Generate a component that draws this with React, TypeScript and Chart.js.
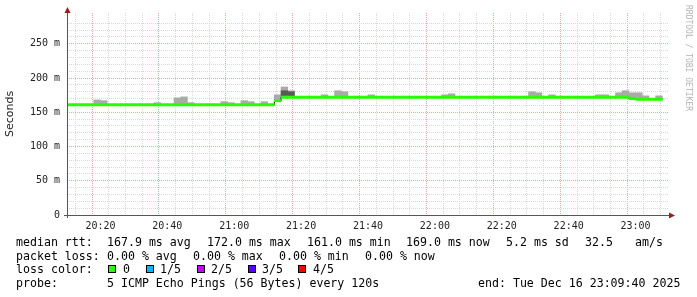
import React, { useEffect, useRef } from 'react';
import { Chart, registerables } from 'chart.js';

Chart.register(...registerables);

// ---------- data ----------
const START_LABEL = '20:10';
const END_LABEL = '23:10';
const BIN_MINUTES = 2;
const X_TICK_LABELS = ['20:20', '20:40', '21:00', '21:20', '21:40', '22:00', '22:20', '22:40', '23:00'];
const Y_TICK_LABELS = ['0', '50 m', '100 m', '150 m', '200 m', '250 m'];
const Y_MAX = 295;

// median rtt (ms) per 2-minute bin, starting 20:10
const MEDIAN = [
  161, 161, 161, 161, 161, 161, 161, 161, 161, 161,
  161, 161, 161, 161, 161, 161, 161, 161, 161, 161,
  161, 161, 161, 161, 161, 161, 161, 161, 161, 161,
  161, 167, 172, 172, 172, 172, 172, 172, 172, 172,
  172, 172, 172, 172, 172, 172, 172, 172, 172, 172,
  172, 172, 172, 172, 172, 172, 172, 172, 172, 172,
  172, 172, 172, 172, 172, 172, 172, 172, 172, 172,
  172, 172, 172, 172, 172, 172, 172, 172, 172, 172,
  172, 172, 172, 172, 170, 169, 169, 169, 169,
];

// highest ping per bin (outer smoke), null where hidden by the median line
const SMOKE_HIGH = [
  null, null, null, null, 168, 167, null, null, null, null,
  null, null, null, 164, null, null, 171, 172.5, 164, null,
  null, null, null, 165.5, 164, null, 167, 165.5, null, 165.5,
  null, 175.5, 187, 181.5, null, null, null, null, 175.5, null,
  181.5, 180, null, null, null, 175.5, null, null, null, null,
  null, null, null, null, null, null, 175.5, 177, null, null,
  null, null, null, null, null, null, null, null, null, 180,
  178.5, null, 175.5, null, null, null, null, null, null, 175.5,
  175.5, null, 178.5, 181.5, 178.5, 178.5, 174, null, 174,
];

// inner (denser) smoke per bin
const SMOKE_INNER_HIGH = [
  null, null, null, null, null, null, null, null, null, null,
  null, null, null, null, null, null, null, null, null, null,
  null, null, null, null, null, null, null, null, null, null,
  null, null, 181.5, 180, null, null, null, null, null, null,
  null, null, null, null, null, null, null, null, null, null,
  null, null, null, null, null, null, null, null, null, null,
  null, null, null, null, null, null, null, null, null, null,
  null, null, null, null, null, null, null, null, null, null,
  null, null, null, null, null, null, null, null, null,
];

const RTT_STATS = ['167.9 ms avg', '172.0 ms max', '161.0 ms min', '169.0 ms now', '5.2 ms sd', '32.5', 'am/s'];
const LOSS_STATS = ['0.00 % avg', '0.00 % max', '0.00 % min', '0.00 % now'];
const LOSS_LABELS = ['0', '1/5', '2/5', '3/5', '4/5'];
const LOSS_COLORS = ['#26ff00', '#00b8ff', '#cc00ff', '#5500ff', '#ff0000'];
const PROBE_TEXT = '5 ICMP Echo Pings (56 Bytes) every 120s';
const END_TEXT = 'end: Tue Dec 16 23:09:40 2025';
const WATERMARK = 'RRDTOOL / TOBI OETIKER';

// ---------- styles ----------
const W = 697;
const H = 297;
const MONO = "'DejaVu Sans Mono', monospace";
const MINOR_GRID = '#d8d8d8';
const MAJOR_GRID = '#eba6a6';
const AXIS_COLOR = '#555555';
const ARROW_COLOR = '#9b1c1c';
const LINE_HALF = 1.7;

const toMin = (s: string) => {
  const [h, m] = s.split(':').map(Number);
  return h * 60 + m;
};

const axesPlugin = {
  id: 'rrdAxes',
  afterDraw(chart: any) {
    const { ctx, chartArea } = chart;
    const { left, right, bottom, top } = chartArea;
    ctx.save();
    ctx.strokeStyle = AXIS_COLOR;
    ctx.lineWidth = 1;
    ctx.setLineDash([]);
    ctx.beginPath();
    ctx.moveTo(Math.round(left) + 0.5, bottom + 3);
    ctx.lineTo(Math.round(left) + 0.5, top - 2);
    ctx.moveTo(left - 3, Math.round(bottom) + 0.5);
    ctx.lineTo(right + 2, Math.round(bottom) + 0.5);
    ctx.stroke();
    ctx.fillStyle = ARROW_COLOR;
    const lx = Math.round(left) + 0.5;
    ctx.beginPath();
    ctx.moveTo(lx, top - 6);
    ctx.lineTo(lx - 3, top);
    ctx.lineTo(lx + 3, top);
    ctx.closePath();
    ctx.fill();
    const by = Math.round(bottom) + 0.5;
    ctx.beginPath();
    ctx.moveTo(right + 6, by);
    ctx.lineTo(right, by - 3);
    ctx.lineTo(right, by + 3);
    ctx.closePath();
    ctx.fill();
    ctx.restore();
  },
};

export default function App() {
  const ref = useRef<HTMLCanvasElement>(null);

  useEffect(() => {
    const canvas = ref.current;
    if (!canvas) return;
    const x0 = toMin(START_LABEL);
    const xMax = toMin(END_LABEL) - x0;
    const majorX = X_TICK_LABELS.map((l) => toMin(l) - x0);

    const center = (i: number) => i * BIN_MINUTES + BIN_MINUTES / 2;
    const outer: any[] = [];
    SMOKE_HIGH.forEach((v, i) => {
      if (v != null) outer.push({ x: center(i), y: [MEDIAN[i], v] });
    });
    const inner: any[] = [];
    SMOKE_INNER_HIGH.forEach((v, i) => {
      if (v != null) inner.push({ x: center(i), y: [MEDIAN[i], v] });
    });
    const band = MEDIAN.map((m, i) => ({ x: center(i), y: [m - LINE_HALF, m + LINE_HALF] }));
    const stepLine = MEDIAN.map((m, i) => ({ x: i * BIN_MINUTES, y: m }));
    stepLine.push({ x: MEDIAN.length * BIN_MINUTES, y: MEDIAN[MEDIAN.length - 1] });

    const barCommon = {
      type: 'bar' as const,
      grouped: false,
      barPercentage: 1,
      categoryPercentage: 1,
      borderWidth: 0,
    };

    const xGridColor = (c: any) => {
      const v = c && c.tick ? c.tick.value : NaN;
      return majorX.includes(v) ? MAJOR_GRID : MINOR_GRID;
    };
    const yGridColor = (c: any) => {
      const v = c && c.tick ? c.tick.value : NaN;
      if (!(v % 10 === 0)) return 'rgba(0,0,0,0)';
      return v % 50 === 0 ? MAJOR_GRID : MINOR_GRID;
    };

    const chart = new Chart(canvas, {
      type: 'bar',
      data: {
        datasets: [
          { ...barCommon, data: outer, backgroundColor: '#aaaaaa', order: 3 } as any,
          { ...barCommon, data: inner, backgroundColor: '#595959', order: 2 } as any,
          {
            type: 'line',
            data: stepLine,
            borderColor: '#000000',
            borderWidth: 1,
            pointRadius: 0,
            stepped: 'before',
            order: 1,
          } as any,
          { ...barCommon, data: band, backgroundColor: '#26ff00', order: 0 } as any,
        ],
      },
      options: {
        responsive: false,
        animation: false,
        devicePixelRatio: 1,
        layout: { padding: { left: 0, top: 13, right: W - 669, bottom: 0 } },
        plugins: { legend: { display: false }, tooltip: { enabled: false } },
        scales: {
          x: {
            type: 'linear',
            min: 0,
            max: xMax,
            offset: false,
            border: { display: false, dash: [1, 1] },
            grid: {
              drawTicks: false,
              color: xGridColor,
            },
            ticks: {
              stepSize: 5,
              autoSkip: false,
              maxRotation: 0,
              padding: 5,
              color: '#222',
              font: { family: MONO, size: 10 },
              callback: (v: any) => {
                const idx = majorX.indexOf(Number(v));
                return idx >= 0 ? X_TICK_LABELS[idx] : '';
              },
            },
            afterFit: (s: any) => {
              s.height = H - 215;
            },
          },
          y: {
            type: 'linear',
            min: 0,
            max: Y_MAX,
            border: { display: false, dash: [1, 1] },
            grid: {
              drawTicks: false,
              color: yGridColor,
            },
            ticks: {
              stepSize: 10,
              autoSkip: false,
              padding: 7,
              color: '#222',
              font: { family: MONO, size: 10 },
              callback: (v: any) => {
                const n = Number(v);
                return n % 50 === 0 ? Y_TICK_LABELS[n / 50] ?? '' : '';
              },
            },
            title: {
              display: true,
              text: 'Seconds',
              color: '#222',
              font: { family: "'DejaVu Sans', sans-serif", size: 11 },
              padding: { top: 4, bottom: 0 },
            },
            afterFit: (s: any) => {
              s.width = 67;
            },
          },
        },
      },
      plugins: [axesPlugin],
    } as any);
    return () => chart.destroy();
  }, []);

  const txt: React.CSSProperties = {
    position: 'absolute',
    fontFamily: MONO,
    fontSize: '11.6px',
    lineHeight: '14px',
    whiteSpace: 'pre',
    color: '#000',
  };
  const rowTop = [235, 248.7, 262.4, 276];
  const rttX = [107, 207, 307, 406, 506, 585, 635];
  const lossX = [107, 193, 279, 365];
  const sqX = [108, 146, 197, 248, 298];
  const lblX = [123, 160, 211, 262, 313];

  return (
    <div style={{ position: 'fixed', left: 0, top: 0, width: W, height: H, background: '#fff', overflow: 'hidden' }}>
      <canvas ref={ref} width={W} height={H} style={{ position: 'absolute', left: 0, top: 0, width: W, height: H }} />
      <div style={{ ...txt, left: 16, top: rowTop[0] }}>median rtt:</div>
      {RTT_STATS.map((s, i) => (
        <div key={'r' + i} style={{ ...txt, left: rttX[i], top: rowTop[0] }}>{s}</div>
      ))}
      <div style={{ ...txt, left: 16, top: rowTop[1] }}>packet loss:</div>
      {LOSS_STATS.map((s, i) => (
        <div key={'l' + i} style={{ ...txt, left: lossX[i], top: rowTop[1] }}>{s}</div>
      ))}
      <div style={{ ...txt, left: 16, top: rowTop[2] }}>loss color:</div>
      {LOSS_LABELS.map((s, i) => (
        <React.Fragment key={'c' + i}>
          <div
            style={{
              position: 'absolute',
              left: sqX[i],
              top: 265,
              width: 6,
              height: 6,
              border: '1px solid #000',
              background: LOSS_COLORS[i],
            }}
          />
          <div style={{ ...txt, left: lblX[i], top: rowTop[2] }}>{s}</div>
        </React.Fragment>
      ))}
      <div style={{ ...txt, left: 16, top: rowTop[3] }}>probe:</div>
      <div style={{ ...txt, left: 107, top: rowTop[3] }}>{PROBE_TEXT}</div>
      <div style={{ ...txt, left: 478, top: rowTop[3] }}>{END_TEXT}</div>
      <div
        style={{
          position: 'absolute',
          left: 683,
          top: 5,
          writingMode: 'vertical-rl',
          fontFamily: MONO,
          fontSize: '8px',
          lineHeight: '10px',
          color: '#b4b4b4',
          whiteSpace: 'pre',
        }}
      >
        {WATERMARK}
      </div>
    </div>
  );
}
